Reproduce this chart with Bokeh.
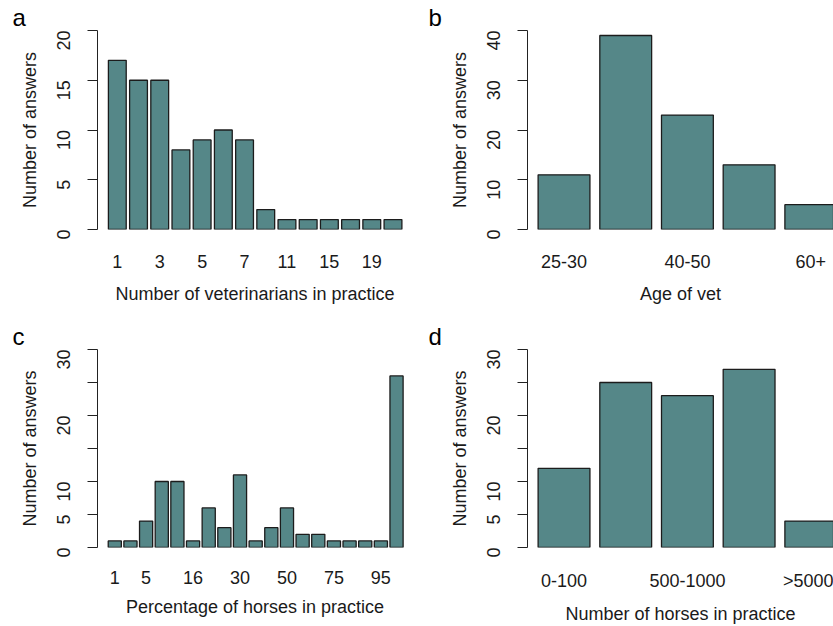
import math
from bokeh.plotting import figure
from bokeh.layouts import column, row
from bokeh.models import FixedTicker, Range1d
from bokeh.embed import file_html
from bokeh.resources import INLINE

# ---- data ----
vets_labels = ["1", "2", "3", "4", "5", "6", "7", "9", "11", "13", "15", "17", "19", "21"]
vets_counts = [17, 15, 15, 8, 9, 10, 9, 2, 1, 1, 1, 1, 1, 1]
vets_shown = [0, 2, 4, 6, 8, 10, 12]

age_labels = ["25-30", "30-40", "40-50", "50-60", "60+"]
age_counts = [11, 39, 23, 13, 5]
age_shown = [0, 2, 4]

pct_labels = ["1", "3", "5", "8", "10", "16", "20", "25", "30", "35", "40",
              "50", "60", "70", "75", "80", "90", "95", "100"]
pct_counts = [1, 1, 4, 10, 10, 1, 6, 3, 11, 1, 3, 6, 2, 2, 1, 1, 1, 1, 26]
pct_shown = [0, 2, 5, 8, 11, 14, 17]

horse_labels = ["0-100", "100-500", "500-1000", "1000-5000", ">5000"]
horse_counts = [12, 25, 23, 27, 4]
horse_shown = [0, 2, 4]

FILL = "#558788"
EDGE = "#1c1c1c"
TXT = "#1a1a1a"
FONT = "Liberation Sans"
FS = "18px"


def panel(letter, labels, counts, shown, xlabel, ymax, yticks, ylabel_hide,
          w, h, bl, br, bt, bb, xstart, xend, lab_so, title_so):
    p = figure(width=w, height=h, output_backend="svg", toolbar_location=None,
               x_range=Range1d(xstart, xend), y_range=Range1d(0, ymax),
               min_border_left=bl, min_border_right=br,
               min_border_top=bt, min_border_bottom=bb,
               outline_line_color=None, background_fill_color="white",
               border_fill_color="white")
    xs = list(range(len(counts)))
    p.vbar(x=xs, top=counts, width=0.84, bottom=0, fill_color=FILL,
           line_color=EDGE, line_width=1.3)
    p.grid.visible = False

    p.title.text = letter
    p.title.align = "left"
    p.title.offset = -(bl - 12)
    p.title.text_font = FONT
    p.title.text_font_size = "24px"
    p.title.text_font_style = "normal"
    p.title.text_color = "#000000"
    p.title.text_line_height = 0.8
    p.title.standoff = 0

    xa = p.xaxis[0]
    xa.ticker = FixedTicker(ticks=shown)
    xa.major_label_overrides = {i: labels[i] for i in shown}
    xa.axis_line_color = None
    xa.major_tick_line_color = None
    xa.minor_tick_line_color = None
    xa.major_tick_out = 0
    xa.major_label_standoff = lab_so
    xa.major_label_text_font = FONT
    xa.major_label_text_font_size = FS
    xa.major_label_text_color = TXT
    xa.axis_label = xlabel
    xa.axis_label_text_font = FONT
    xa.axis_label_text_font_size = FS
    xa.axis_label_text_font_style = "normal"
    xa.axis_label_text_color = TXT
    xa.axis_label_standoff = title_so

    ya = p.yaxis[0]
    ya.ticker = FixedTicker(ticks=yticks)
    ya.major_label_overrides = {t: ("" if t in ylabel_hide else str(t)) for t in yticks}
    ya.axis_line_color = "#222222"
    ya.axis_line_width = 1
    ya.major_tick_line_color = "#222222"
    ya.major_tick_in = 0
    ya.major_tick_out = 10
    ya.minor_tick_line_color = None
    ya.major_label_orientation = math.pi / 2
    ya.major_label_standoff = 24
    ya.major_label_text_font = FONT
    ya.major_label_text_font_size = FS
    ya.major_label_text_color = TXT
    ya.axis_label = "Number of answers"
    ya.axis_label_text_font = FONT
    ya.axis_label_text_font_size = FS
    ya.axis_label_text_font_style = "normal"
    ya.axis_label_text_color = TXT
    ya.axis_label_standoff = 8
    return p


pa = panel("a", vets_labels, vets_counts, vets_shown,
           "Number of veterinarians in practice", 20, [0, 5, 10, 15, 20], [],
           416, 313, 97, 4, 30, 84, -0.934, 13.92, 25, 13)
pb = panel("b", age_labels, age_counts, age_shown, "Age of vet", 40,
           [0, 10, 20, 30, 40], [],
           417, 313, 111, 0, 30, 84, -0.592, 4.368, 25, 13)
pc = panel("c", pct_labels, pct_counts, pct_shown,
           "Percentage of horses in practice", 30, [0, 5, 10, 15, 20, 25, 30], [15, 25],
           416, 313, 97, 4, 36, 77, -1.105, 19.02, 23, 10)
pd = panel("d", horse_labels, horse_counts, horse_shown,
           "Number of horses in practice", 30, [0, 5, 10, 15, 20, 25, 30], [15, 25],
           417, 313, 111, 0, 36, 77, -0.592, 4.368, 23, 10)

layout = column(row(pa, pb), row(pc, pd))
open("out.html", "w").write(file_html(layout, INLINE))
